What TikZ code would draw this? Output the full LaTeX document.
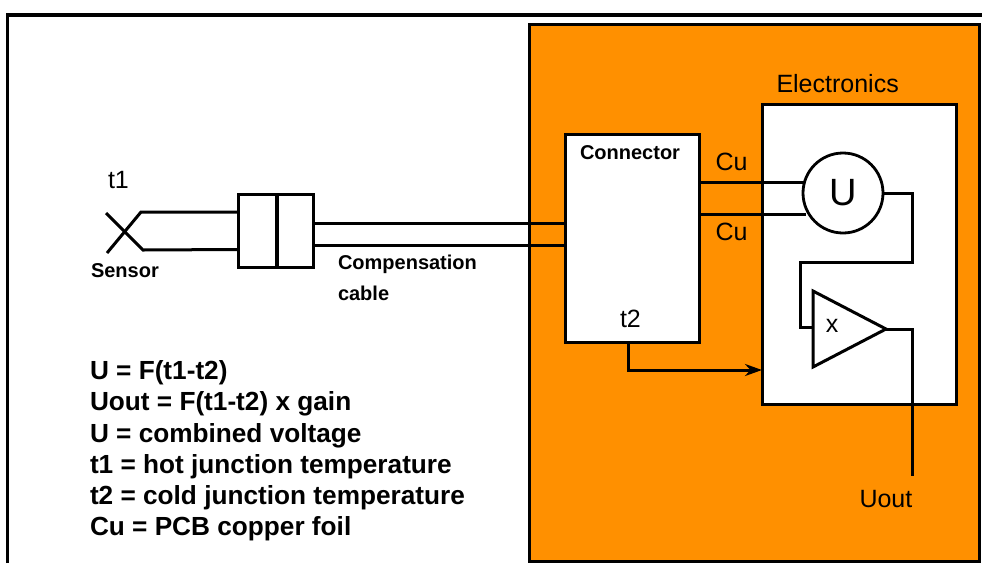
\documentclass[tikz,border=0pt]{standalone}
\usepackage{fontspec}
\usetikzlibrary{arrows.meta}
\setmainfont{Liberation Sans}
\definecolor{boxorange}{HTML}{FF9000}
\tikzset{
  every node/.style={outer sep=0pt},
  wire/.style={draw=black,line width=3pt,line cap=butt,line join=miter},
  frameline/.style={draw=black,line width=3.4pt},
  whitebox/.style={draw=black,fill=white,line width=3pt},
  lab/.style={inner sep=0pt,font=\fontsize{25}{28}\selectfont,text=black},
  blab/.style={inner sep=0pt,font=\fontsize{20}{24}\selectfont\bfseries,text=black},
}
\begin{document}
\begin{tikzpicture}[x=1pt,y=-1pt,>={Stealth[length=17pt,width=12pt]}]
\useasboundingbox (0,0) rectangle (982,563);
\fill[white] (0,0) rectangle (982,563);
% outer frame
\coordinate (fa) at (7.5,563);
\coordinate (fb) at (7.5,15);
\coordinate (fc) at (982,15);
\draw[frameline] (fa) -- (fb) -- (fc);
% orange housing
\node[draw=black,fill=boxorange,line width=3pt,inner sep=0pt,anchor=north west,minimum width=450pt,minimum height=537pt] (housing) at (529,24) {};
% electronics
\node[whitebox,inner sep=0pt,anchor=north west,minimum width=194pt,minimum height=300pt] (elec) at (762,104) {};
% connector
\node[whitebox,inner sep=0pt,anchor=north west,minimum width=134pt,minimum height=208pt] (conn) at (565,134) {};
% coupling
\node[whitebox,inner sep=0pt,anchor=north west,minimum width=38pt,minimum height=73pt] (c1) at (238.5,194) {};
\node[whitebox,inner sep=0pt,anchor=north west,minimum width=36pt,minimum height=73pt] (c2) at (277.5,194) {};
% meter
\node[draw=black,fill=white,circle,line width=2.8pt,minimum size=80pt,inner sep=0pt] (meter) at (843,193) {};
\node[inner sep=0pt,font=\fontsize{38}{40}\selectfont] (ulab) at (843,193) {U};
% amp
\coordinate (ampa) at (813,291);
\coordinate (ampb) at (813,367);
\coordinate (ampc) at (886,329);
\draw[wire,line join=miter] (ampa) -- (ampc) -- (ampb) -- cycle;
\node[lab] (xl) at (832,326) {x};
% sensor
\coordinate (s1) at (106,213);
\coordinate (s2) at (143,250);
\coordinate (s3) at (107,253);
\coordinate (s4) at (141,212);
\draw[wire] (s1) -- (s2) -- (238,249.5);
\draw[wire] (s3) -- (s4) -- (238,212);
% cables
\draw[wire] (c2.east |- 0,223) -- (conn.west |- 0,223);
\draw[wire] (c2.east |- 0,245) -- (conn.west |- 0,245);
% Cu
\draw[wire] (conn.east |- 0,182) -- (804,182);
\draw[wire] (conn.east |- 0,214) -- (806,214);
% loop
\coordinate (la) at (912,193);
\coordinate (lb) at (912,262);
\coordinate (lc) at (800,262);
\coordinate (ld) at (800,327);
\coordinate (le) at (813,327);
\draw[wire] (meter.east) -- (la) -- (lb) -- (lc) -- (ld) -- (le);
\coordinate (oa) at (912,329);
\coordinate (ob) at (912,476);
\draw[wire] (ampc) -- (oa) -- (ob);
% t2 arrow
\coordinate (ta) at (628,370);
\draw[wire,->] (conn.south -| ta) -- (ta) -- (elec.west |- ta);
% labels
\node[lab,anchor=west] (t1) at (108,180) {t1};
\node[blab,anchor=west] (sensor) at (91,271) {Sensor};
\node[blab,anchor=west] (comp1) at (338,264) {Compensation};
\node[blab,anchor=west] (comp2) at (338,293) {cable};
\node[blab,anchor=west] (connl) at (580,152.5) {Connector};
\node[lab,anchor=west] (t2) at (620,319) {t2};
\node[lab,anchor=west] (cu1) at (715.5,162) {Cu};
\node[lab,anchor=west] (cu2) at (715.5,232) {Cu};
\node[lab,anchor=west] (el) at (776.5,84) {Electronics};
\node[lab,anchor=west] (uo) at (859.5,499) {Uout};
\node[anchor=north west,inner sep=0pt,align=left,font=\fontsize{26.2}{31.3}\selectfont\bfseries] (eqs) at (90,360.5) {U = F(t1-t2)\\Uout = F(t1-t2) x gain\\U = combined voltage\\t1 = hot junction temperature\\t2 = cold junction temperature\\Cu = PCB copper foil};
\end{tikzpicture}
\end{document}
